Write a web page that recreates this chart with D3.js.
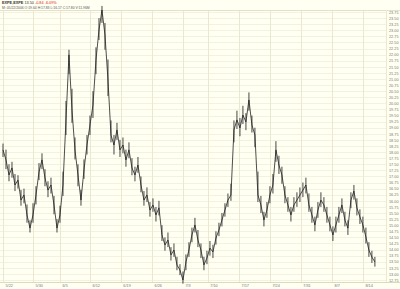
<!DOCTYPE html>
<html><head><meta charset="utf-8">
<script src="https://cdn.jsdelivr.net/npm/d3@7"></script>
<style>html,body{margin:0;padding:0;background:#fffff2;}svg{display:block;}</style>
</head><body>
<script>
// ---- data ----
const xTickLabels = ["5/22","5/30","6/5","6/12","6/19","6/26","7/3","7/10","7/17","7/24","7/31","8/7","8/14"];
const xTickIndex  = [0,10,19,29,39.3,49.7,60,68.3,78.7,89,99.3,109.7,120];
const priceTicks  = d3.range(12.75, 23.751, 0.25);
const closes = [
 18.09,17.68,17.06,17.35,16.65,16.85,16.03,16.24,15.42,14.88,
 15.42,16.24,17.18,17.68,16.94,16.44,16.65,15.83,14.88,15.42,
 16.65,19.32,21.99,19.73,18.09,17.06,16.03,17.27,18.29,19.11,
 19.93,21.78,23.01,23.83,22.81,20.96,18.70,18.29,18.91,18.09,
 18.29,17.68,18.09,17.35,17.06,17.47,16.65,16.03,16.24,15.62,
 15.83,15.42,15.71,14.60,14.19,14.39,13.78,13.98,13.37,13.16,
 12.75,13.49,13.98,14.60,15.01,14.39,13.98,13.37,13.65,14.06,
 13.90,14.47,14.80,15.21,15.62,16.03,16.24,18.91,19.32,18.99,
 19.52,19.24,20.14,19.11,18.70,16.24,15.83,15.21,15.62,16.24,
 16.65,18.09,17.47,17.06,16.24,15.83,15.42,15.83,16.03,16.24,
 16.44,16.65,15.83,15.42,15.01,15.62,16.03,15.83,15.42,15.01,
 14.60,15.01,15.42,15.83,15.21,14.88,16.03,16.40,15.71,15.34,
 15.01,14.52,13.98,13.69,13.49
];
const highs = [
 18.35,18.10,17.50,17.60,17.10,17.05,16.45,16.50,15.85,15.20,
 15.90,16.60,17.55,17.95,17.30,16.80,16.95,16.20,15.25,15.80,
 17.20,20.10,22.20,20.60,18.60,17.50,16.45,17.70,18.70,19.50,
 20.50,22.30,23.50,24.00,23.30,21.80,19.30,18.70,19.20,18.50,
 18.60,18.10,18.40,17.75,17.40,17.80,17.00,16.40,16.55,15.95,
 16.10,15.75,16.00,15.00,14.50,14.70,14.10,14.25,13.70,13.40,
 13.10,13.80,14.30,14.90,15.30,14.80,14.25,13.70,13.95,14.35,
 14.20,14.75,15.10,15.50,15.90,16.30,16.70,19.30,19.70,19.40,
 19.90,19.60,20.45,19.50,19.00,17.20,16.20,15.55,15.95,16.60,
 17.10,18.45,17.85,17.40,16.60,16.15,15.75,16.15,16.35,16.55,
 16.75,16.95,16.30,15.75,15.35,15.95,16.35,16.15,15.75,15.35,
 14.95,15.35,15.75,16.10,15.55,15.20,16.35,16.65,16.10,15.65,
 15.35,14.90,14.30,13.95,13.70
];
const lows = [
 17.80,17.30,16.80,16.95,16.40,16.50,15.80,15.90,15.10,14.70,
 15.10,15.85,16.85,17.30,16.60,16.15,16.30,15.45,14.70,15.10,
 16.20,18.70,21.20,19.20,17.70,16.60,15.80,16.90,17.90,18.70,
 19.40,21.20,22.60,23.30,22.20,20.30,18.40,17.90,18.50,17.80,
 17.95,17.40,17.75,17.05,16.80,17.15,16.35,15.80,15.95,15.35,
 15.55,15.15,15.40,14.35,13.95,14.10,13.55,13.70,13.15,12.95,
 12.60,13.15,13.70,14.30,14.70,14.10,13.65,13.15,13.40,13.75,
 13.65,14.20,14.55,14.95,15.35,15.75,16.00,18.40,18.95,18.65,
 19.15,18.90,19.70,18.80,18.20,15.95,15.50,14.95,15.30,15.90,
 16.30,17.60,17.10,16.70,15.90,15.55,15.15,15.55,15.75,15.95,
 16.15,16.30,15.55,15.10,14.75,15.30,15.75,15.55,15.10,14.75,
 14.35,14.70,15.10,15.50,14.95,14.60,15.70,16.05,15.40,15.05,
 14.70,14.25,13.70,13.45,13.30
];
const headerSymbol = "EXPE,EXPE";
const headerLast = "13.50";
const headerChange = "-0.84  -6.09%";
const headerInfo = "M: 05/22/2006     O:19.64  H:17.83  L:16.17  C:17.80  V:11.96M";

// ---- drawing ----
const W = 400, H = 289;
const svg = d3.select("body").append("svg").attr("width", W).attr("height", H);
const plot = {left: 0, right: 386, top: 10, bottom: 282};

svg.append("rect").attr("width", W).attr("height", H).attr("fill", "#fffff2");

const x = d3.scaleLinear().domain([0, 127.7]).range([3, 386]);
const y = d3.scaleLinear().domain([12.75, 23.75]).range([280, 12]);

// horizontal grid
svg.append("g").selectAll("line").data(priceTicks).join("line")
  .attr("x1", plot.left).attr("x2", plot.right)
  .attr("y1", d => Math.round(y(d)) + 0.5).attr("y2", d => Math.round(y(d)) + 0.5)
  .attr("stroke", "#f3f1e0").attr("stroke-width", 1);

// vertical grid
svg.append("g").selectAll("line").data(xTickIndex).join("line")
  .attr("x1", d => Math.round(x(d)) + 0.5).attr("x2", d => Math.round(x(d)) + 0.5)
  .attr("y1", plot.top).attr("y2", plot.bottom)
  .attr("stroke", "#ebe8d2").attr("stroke-width", 1);

// frame lines
svg.append("line").attr("x1", 0).attr("x2", W).attr("y1", plot.top + 0.5).attr("y2", plot.top + 0.5)
  .attr("stroke", "#e4e1c8");
svg.append("line").attr("x1", 0).attr("x2", W).attr("y1", plot.bottom + 0.5).attr("y2", plot.bottom + 0.5)
  .attr("stroke", "#dcd9be");
svg.append("line").attr("x1", plot.right + 0.5).attr("x2", plot.right + 0.5).attr("y1", plot.top).attr("y2", plot.bottom)
  .attr("stroke", "#ebe8d2");

// high-low ticks
svg.append("g").selectAll("line").data(closes).join("line")
  .attr("x1", (d, i) => x(i)).attr("x2", (d, i) => x(i))
  .attr("y1", (d, i) => y(highs[i])).attr("y2", (d, i) => y(lows[i]))
  .attr("stroke", "#333").attr("stroke-width", 0.9);

// close line
const line = d3.line().x((d, i) => x(i)).y(d => y(d));
svg.append("path").datum(closes).attr("d", line)
  .attr("fill", "none").attr("stroke", "#222").attr("stroke-width", 0.8).attr("stroke-linejoin", "round");

// right axis labels
const yAxis = d3.axisRight(y).tickValues(priceTicks).tickSize(0).tickPadding(0).tickFormat(d3.format(".2f"));
const ga = svg.append("g").attr("transform", `translate(${plot.right + 3},0)`).call(yAxis);
ga.select(".domain").remove();
ga.selectAll("text").attr("font-family", "Liberation Sans, Arial, sans-serif").attr("font-size", 3.8).attr("fill", "#777");

// bottom axis labels
const xAxis = d3.axisBottom(x).tickValues(xTickIndex).tickSize(0).tickPadding(0)
  .tickFormat((d, i) => xTickLabels[i]);
const gx = svg.append("g").attr("transform", `translate(0,${plot.bottom + 2})`).call(xAxis);
gx.select(".domain").remove();
gx.selectAll("text").attr("text-anchor", "start").attr("dx", 2).attr("dy", "0.9em")
  .attr("font-family", "Liberation Sans, Arial, sans-serif").attr("font-size", 3.8).attr("fill", "#777");

// header
const hdr = svg.append("text").attr("x", 2).attr("y", 4)
  .attr("font-family", "Liberation Sans, Arial, sans-serif").attr("font-size", 3.8);
hdr.append("tspan").attr("fill", "#333").attr("font-weight", "bold").text(headerSymbol + "  ");
hdr.append("tspan").attr("fill", "#333").text(headerLast + "  ");
hdr.append("tspan").attr("fill", "#e02020").text(headerChange);
svg.append("text").attr("x", 2).attr("y", 8.5)
  .attr("font-family", "Liberation Sans, Arial, sans-serif").attr("font-size", 3.4).attr("fill", "#555")
  .text(headerInfo);
</script>
</body></html>
